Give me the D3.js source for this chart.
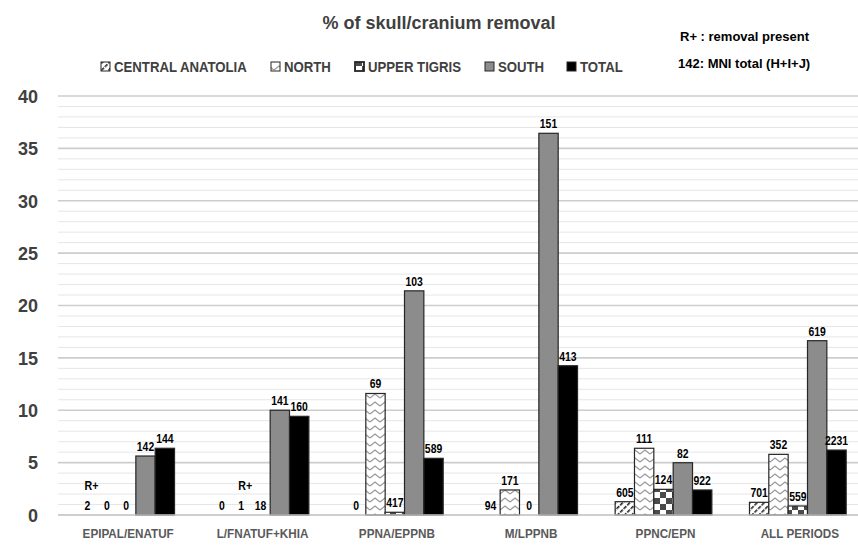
<!DOCTYPE html>
<html><head><meta charset="utf-8">
<script src="https://cdn.jsdelivr.net/npm/d3@7/dist/d3.min.js"></script>
<style>
body{margin:0;background:#fff;}
svg{display:block;}
.nar{font-family:"Liberation Sans",Arial,sans-serif;font-weight:bold;}
.reg{font-family:"Liberation Sans",Arial,sans-serif;font-weight:bold;}
</style></head>
<body>
<svg id="c" width="858" height="545"></svg>
<script>
const categories = ["EPIPAL/ENATUF","L/FNATUF+KHIA","PPNA/EPPNB","M/LPPNB","PPNC/EPN","ALL PERIODS"];
const seriesNames = ["CENTRAL ANATOLIA","NORTH","UPPER TIGRIS","SOUTH","TOTAL"];
// % values per series (one per category)
const centralAnatolia = [0, 0, 0, 0, 1.27, 1.21];
const north           = [0, 0, 11.6, 2.39, 6.37, 5.79];
const upperTigris     = [0, 0, 0.26, 0, 2.45, 0.86];
const south           = [5.63, 10.0, 21.4, 36.44, 4.99, 16.64];
const total           = [6.37, 9.42, 5.41, 14.25, 2.39, 6.2];
// MNI totals shown as data labels
const mniCentralAnatolia = [2, 0, 0, 94, 605, 701];
const mniNorth           = [0, 1, 69, 171, 111, 352];
const mniUpperTigris     = [0, 18, 417, 0, 124, 559];
const mniSouth           = [142, 141, 103, 151, 82, 619];
const mniTotal           = [144, 160, 589, 413, 922, 2231];
// "R+" (removal present) markers: [category index, series index]
const rPlus = [[0,0],[1,1]];
const yTicks = [0,5,10,15,20,25,30,35,40];

const values = [centralAnatolia, north, upperTigris, south, total];
const mni = [mniCentralAnatolia, mniNorth, mniUpperTigris, mniSouth, mniTotal];

const svg = d3.select("#c");
const defs = svg.append("defs");

// patterns
const pCA = defs.append("pattern").attr("id","pCA").attr("patternUnits","userSpaceOnUse")
  .attr("width",5).attr("height",5).attr("patternTransform","rotate(45)");
pCA.append("rect").attr("width",5).attr("height",5).attr("fill","#fff");
pCA.append("rect").attr("x",0).attr("y",0).attr("width",1.6).attr("height",3.8).attr("fill","#222");

const pN = defs.append("pattern").attr("id","pN").attr("patternUnits","userSpaceOnUse")
  .attr("width",10).attr("height",8);
pN.append("rect").attr("width",10).attr("height",8).attr("fill","#fff");
pN.append("polyline").attr("points","0,6 5,2 10,6").attr("fill","none").attr("stroke","#9a9a9a").attr("stroke-width",1.3);

const pUT = defs.append("pattern").attr("id","pUT").attr("patternUnits","userSpaceOnUse")
  .attr("width",12).attr("height",12);
pUT.append("rect").attr("width",12).attr("height",12).attr("fill","#fff");
pUT.append("rect").attr("x",0).attr("y",0).attr("width",6).attr("height",6).attr("fill","#4a4a4a");
pUT.append("rect").attr("x",6).attr("y",6).attr("width",6).attr("height",6).attr("fill","#4a4a4a");

const fills = ["url(#pCA)","url(#pN)","url(#pUT)","#8c8c8c","#000"];

const mLeft = 59, mRight = 865, mTop = 96, mBottom = 515;
const x0 = d3.scaleBand().domain(categories).range([mLeft, mRight]).paddingInner(0.28).paddingOuter(0.14);
const x1 = d3.scaleBand().domain(d3.range(seriesNames.length)).range([0, x0.bandwidth()]);
const y = d3.scaleLinear().domain([0,40]).range([mBottom, mTop]);

// gridlines
const g = svg.append("g");
g.selectAll("line.minor").data(d3.range(1,41).filter(v=>v%5!==0)).join("line")
  .attr("x1",58).attr("x2",858).attr("y1",d=>y(d)).attr("y2",d=>y(d))
  .attr("stroke","#e6e6e6").attr("stroke-width",1);
g.selectAll("line.major").data(yTicks.filter(v=>v>0)).join("line")
  .attr("x1",58).attr("x2",858).attr("y1",d=>y(d)).attr("y2",d=>y(d))
  .attr("stroke","#cdcdcd").attr("stroke-width",1.6);

// y axis labels
const yAxis = d3.axisLeft(y).tickValues(yTicks).tickSize(0).tickPadding(0);
const ya = svg.append("g").attr("transform","translate(38,0)").call(yAxis);
ya.select(".domain").remove();
ya.selectAll("text").attr("class","reg").attr("font-size",18).attr("fill","#404040").attr("dy","0.35em");

// bars
const data = [];
categories.forEach((c,ci)=>seriesNames.forEach((s,si)=>data.push({c,ci,si,v:values[si][ci],m:mni[si][ci]})));
svg.append("g").selectAll("rect").data(data.filter(d=>d.v>0)).join("rect")
  .attr("x",d=>x0(d.c)+x1(d.si)).attr("width",x1.bandwidth())
  .attr("y",d=>y(d.v)).attr("height",d=>y(0)-y(d.v))
  .attr("fill",d=>fills[d.si]).attr("stroke","#262626").attr("stroke-width",1.2);

// baseline
svg.append("line").attr("x1",58).attr("x2",858).attr("y1",y(0)).attr("y2",y(0))
  .attr("stroke","#bfbfbf").attr("stroke-width",1.5);

const cx = (ci,si)=>x0(categories[ci])+x1(si)+x1.bandwidth()/2;

// data labels (condensed)
svg.append("g").selectAll("text").data(data).join("text")
  .attr("class","nar").attr("font-size",13).attr("fill","#000").attr("text-anchor","middle")
  .attr("transform",d=>`translate(${cx(d.ci,d.si)},${y(d.v)-5}) scale(0.8,1)`)
  .text(d=>d.m);

// R+ labels
svg.append("g").selectAll("text").data(rPlus).join("text")
  .attr("class","nar").attr("font-size",13).attr("fill","#000").attr("text-anchor","middle")
  .attr("transform",d=>`translate(${cx(d[0],d[1])+4},${y(values[d[1]][d[0]])-25}) scale(0.82,1)`)
  .text("R+");

// category labels
const xAxis = d3.axisBottom(x0).tickSize(0).tickPadding(0);
const xa = svg.append("g").attr("transform",`translate(0,${mBottom+18})`).call(xAxis);
xa.select(".domain").remove();
xa.selectAll(".tick").attr("transform",d=>`translate(${x0(d)+x0.bandwidth()/2+2},0)`);
xa.selectAll("text").attr("class","nar").attr("font-size",13).attr("fill","#595959").attr("dy","0.35em")
  .attr("transform","scale(0.9,1)");

// title
svg.append("text").attr("class","reg").attr("x",439).attr("y",29).attr("text-anchor","middle")
  .attr("font-size",18).attr("fill","#404040").text("% of skull/cranium removal");

// legend
const legTextX = [114, 284, 368, 498, 580];
const lg = svg.append("g").selectAll("g").data(seriesNames).join("g")
  .attr("transform",(d,i)=>`translate(${legTextX[i]},0)`);
lg.append("rect").attr("x",-13).attr("y",62).attr("width",9).attr("height",9).attr("fill",(d,i)=>fills[i])
  .attr("stroke","#262626").attr("stroke-width",(d,i)=>i===2?1.8:1);
lg.append("text").attr("class","nar").attr("font-size",15)
  .attr("transform","translate(0,72) scale(0.88,1)")
  .attr("fill","#404040").text(d=>d);

// notes
svg.append("text").attr("class","reg").attr("x",680).attr("y",41).attr("font-size",13).attr("fill","#000").text("R+ : removal present");
svg.append("text").attr("class","reg").attr("x",678).attr("y",68).attr("font-size",13).attr("fill","#000").text("142: MNI total (H+I+J)");
</script>
</body></html>
